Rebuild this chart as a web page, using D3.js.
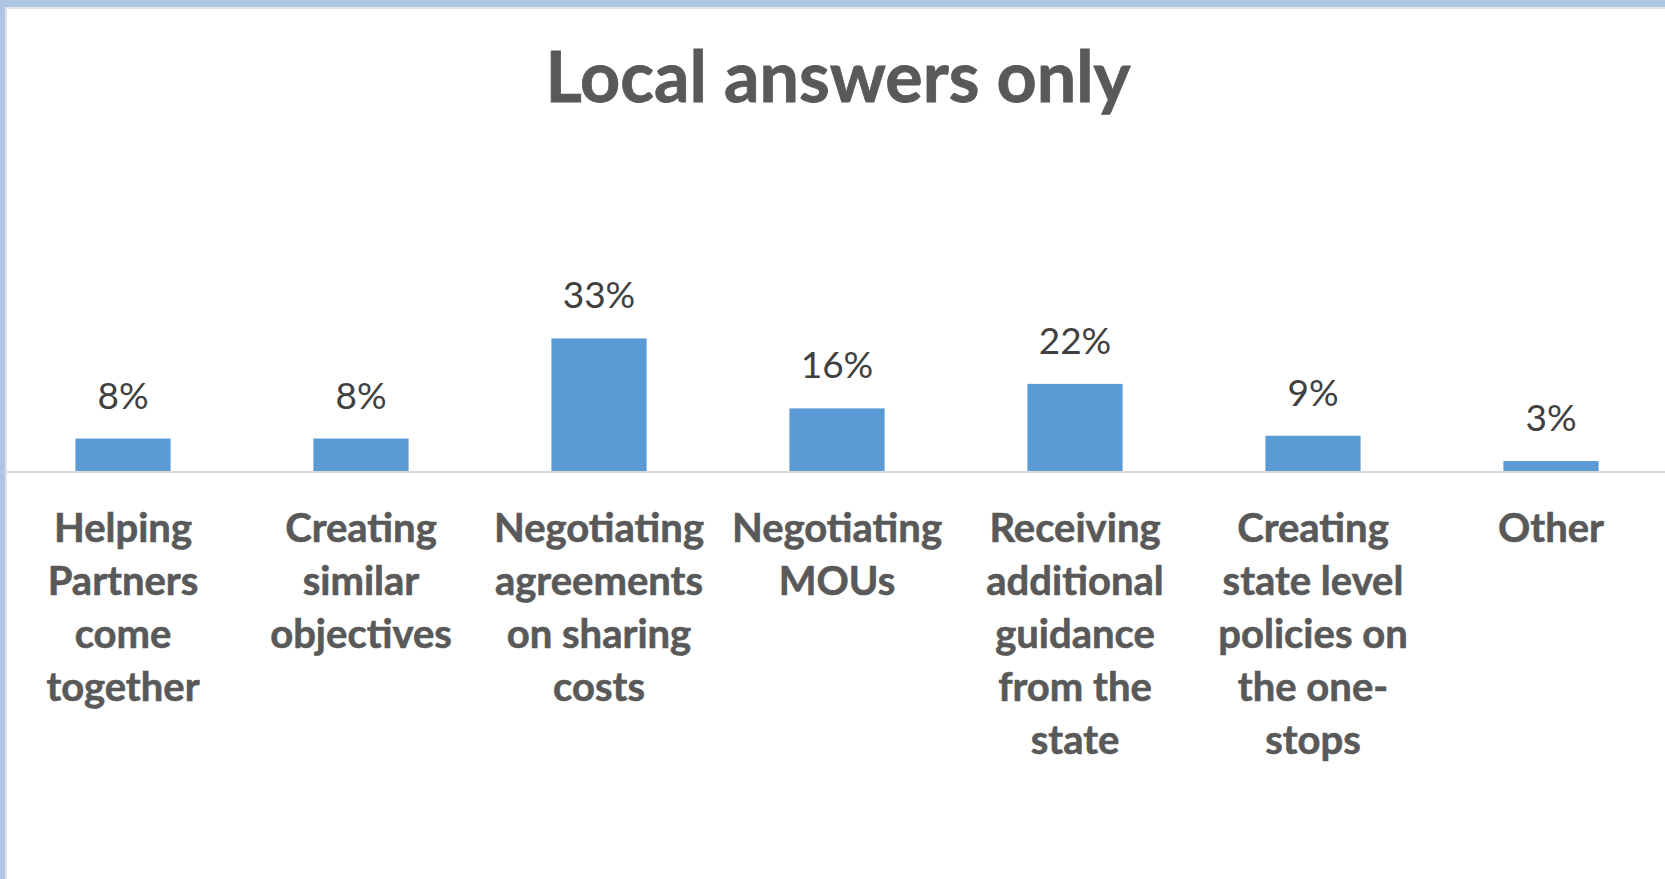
<!DOCTYPE html>
<html>
<head>
<meta charset="utf-8">
<script src="https://cdn.jsdelivr.net/npm/d3@7"></script>
<style>
  html, body { margin: 0; padding: 0; background: #ffffff; }
  svg { display: block; }
</style>
</head>
<body>
<div id="wrapper"></div>
<script>
// data
const categories = [
  "Helping\nPartners\ncome\ntogether",
  "Creating\nsimilar\nobjectives",
  "Negotiating\nagreements\non sharing\ncosts",
  "Negotiating\nMOUs",
  "Receiving\nadditional\nguidance\nfrom the\nstate",
  "Creating\nstate level\npolicies on\nthe one-\nstops",
  "Other"
];
const shares = [0.082, 0.082, 0.331, 0.157, 0.218, 0.089, 0.026];
const chartTitle = "Local answers only";

const drawBarChart = () => {
  const width = 1665;
  const height = 879;

  let dimensions = {
    width: width,
    height: height,
    axisY: 471.5,
    left: 4,
    right: 1670
  };

  const svg = d3.select("#wrapper")
    .append("svg")
    .attr("width", dimensions.width)
    .attr("height", dimensions.height);

  svg.append("rect")
    .attr("width", width)
    .attr("height", height)
    .attr("fill", "#ffffff");

  // scales
  const xScale = d3.scaleBand()
    .domain(categories)
    .range([dimensions.left, dimensions.right])
    .paddingInner(0.6)
    .paddingOuter(0.3);

  // ~4 px per percent
  const yScale = d3.scaleLinear()
    .domain([0, 0.35])
    .range([dimensions.axisY, dimensions.axisY - 0.35 * 402]);

  const fmt = d3.format(".0%");

  // title
  svg.append("text")
    .attr("x", 838)
    .attr("y", 102)
    .attr("text-anchor", "middle")
    .style("font-family", "Lato, 'Open Sans', sans-serif")
    .style("font-weight", "bold")
    .style("font-size", "70px")
    .attr("fill", "#595959")
    .attr("stroke", "#595959")
    .attr("stroke-width", 0.8)
    .text(chartTitle);

  // bars
  svg.append("g")
    .selectAll("rect")
    .data(shares)
    .join("rect")
    .attr("x", (d, i) => xScale(categories[i]))
    .attr("y", d => yScale(d))
    .attr("width", xScale.bandwidth())
    .attr("height", d => yScale(0) - yScale(d))
    .attr("fill", "#5b9bd5");

  // data labels
  svg.append("g")
    .selectAll("text")
    .data(shares)
    .join("text")
    .attr("x", (d, i) => xScale(categories[i]) + xScale.bandwidth() / 2)
    .attr("y", d => yScale(d) - 30)
    .attr("text-anchor", "middle")
    .style("font-family", "Lato, 'Open Sans', sans-serif")
    .style("font-size", "37px")
    .attr("fill", "#404040")
    .text(d => fmt(d));

  // category axis
  const xAxisGenerator = d3.axisBottom(xScale)
    .tickSize(0)
    .tickSizeOuter(0);

  const xAxis = svg.append("g")
    .attr("transform", `translate(0, ${dimensions.axisY})`)
    .call(xAxisGenerator);

  xAxis.select(".domain")
    .attr("stroke", "#d9d9d9")
    .attr("stroke-width", 2);

  xAxis.selectAll(".tick text")
    .attr("y", 70.5)
    .attr("dy", null)
    .style("font-family", "Lato, 'Open Sans', sans-serif")
    .style("font-weight", "bold")
    .style("font-size", "40px")
    .attr("fill", "#595959")
    .attr("stroke", "#595959")
    .attr("stroke-width", 0.6)
    .each(function(d) {
      const t = d3.select(this);
      const lines = d.split("\n");
      t.text(null);
      lines.forEach((line, i) => {
        t.append("tspan")
          .attr("x", 0)
          .attr("dy", i === 0 ? 0 : 53)
          .text(line);
      });
    });

  // frame edges of the chart box
  svg.append("rect")
    .attr("x", 0).attr("y", 7)
    .attr("width", width).attr("height", 2)
    .attr("fill", "#e3e3e3");
  svg.append("rect")
    .attr("x", 5).attr("y", 0)
    .attr("width", 2).attr("height", height)
    .attr("fill", "#e3e3e3");
  svg.append("rect")
    .attr("x", 0).attr("y", 0)
    .attr("width", width).attr("height", 7)
    .attr("fill", "#afc5e4");
  svg.append("rect")
    .attr("x", 0).attr("y", 0)
    .attr("width", 5).attr("height", height)
    .attr("fill", "#afc5e4");
};

drawBarChart();
</script>
</body>
</html>
